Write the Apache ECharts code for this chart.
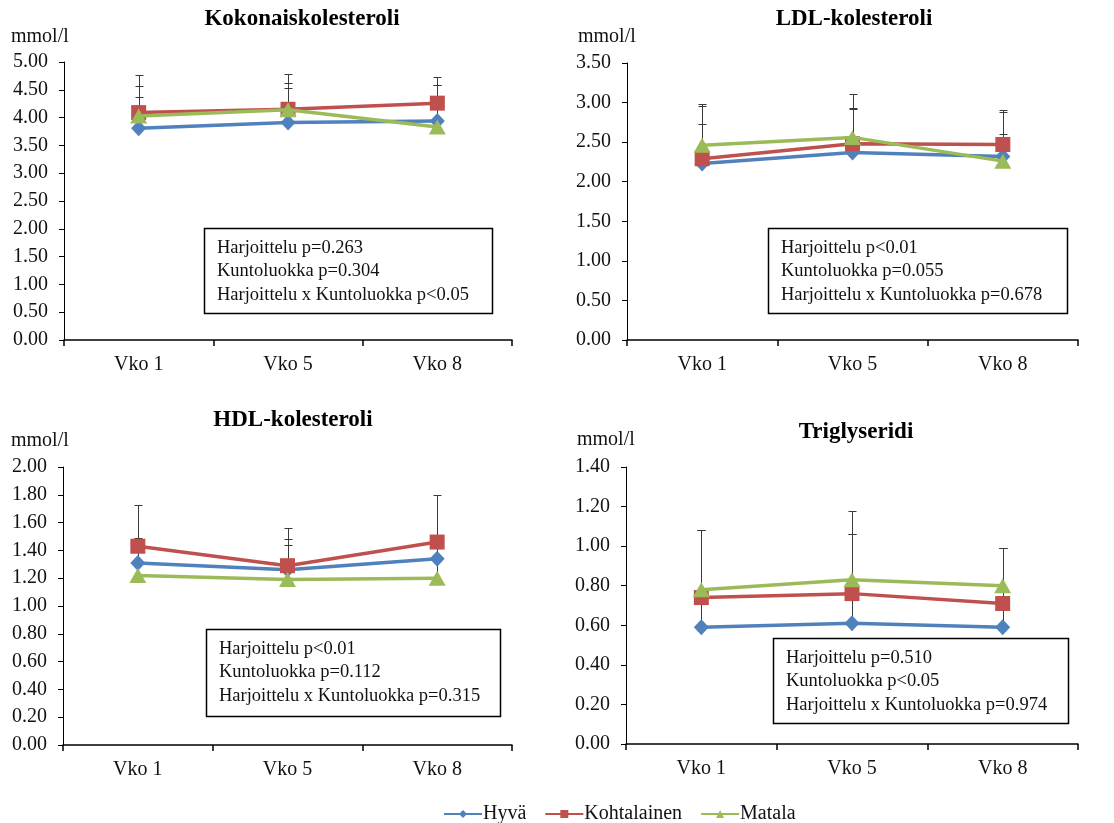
<!DOCTYPE html>
<html>
<head>
<meta charset="utf-8">
<title>Veren rasva-arvot kuntoluokittain</title>
<script src="https://cdn.jsdelivr.net/npm/echarts@6/dist/echarts.min.js"></script>
<style>
  html, body { margin: 0; padding: 0; background: #fff; }
  #chart { width: 1114px; height: 823px; }
</style>
</head>
<body>
<div id="chart"></div>
<script>
// Mittausviikot ja kuntoluokat
const weeks = ['Vko 1', 'Vko 5', 'Vko 8'];
const groups = ['Hyvä', 'Kohtalainen', 'Matala'];

// Kokonaiskolesteroli (mmol/l): keskiarvot ja keskihajonnat
const kokHyva = [3.81, 3.91, 3.94];
const kokKohtalainen = [4.09, 4.15, 4.26];
const kokMatala = [4.03, 4.14, 3.83];
const kokHyvaSD = [0.56, 0.63, 0.65];
const kokKohtalainenSD = [0.68, 0.63, 0.47];
const kokMatalaSD = [0.54, 0.48, 0.76];

// LDL-kolesteroli (mmol/l)
const ldlHyva = [2.23, 2.37, 2.32];
const ldlKohtalainen = [2.29, 2.48, 2.47];
const ldlMatala = [2.46, 2.56, 2.26];
const ldlHyvaSD = [0.50, 0.55, 0.56];
const ldlKohtalainenSD = [0.67, 0.45, 0.43];
const ldlMatalaSD = [0.52, 0.55, 0.34];

// HDL-kolesteroli (mmol/l)
const hdlHyva = [1.31, 1.26, 1.34];
const hdlKohtalainen = [1.43, 1.29, 1.46];
const hdlMatala = [1.22, 1.19, 1.20];
const hdlHyvaSD = [0.18, 0.22, 0.11];
const hdlKohtalainenSD = [0.30, 0.27, 0.34];
const hdlMatalaSD = [0.26, 0.25, 0.24];

// Triglyseridi (mmol/l)
const tgHyva = [0.59, 0.61, 0.59];
const tgKohtalainen = [0.74, 0.76, 0.71];
const tgMatala = [0.78, 0.83, 0.80];
const tgHyvaSD = [0.49, 0.45, 0.40];
const tgKohtalainenSD = [0.34, 0.30, 0.28];
const tgMatalaSD = [0.30, 0.35, 0.19];

// Y-akselien asteikot
const yMax = [5.0, 3.5, 2.0, 1.4];
const yStep = [0.5, 0.5, 0.2, 0.2];

// Paneelien otsikot ja tilastolliset testitulokset
const titles = ['Kokonaiskolesteroli', 'LDL-kolesteroli', 'HDL-kolesteroli', 'Triglyseridi'];
const statTexts = [
  ['Harjoittelu p=0.263', 'Kuntoluokka p=0.304', 'Harjoittelu x Kuntoluokka p<0.05'],
  ['Harjoittelu p<0.01', 'Kuntoluokka p=0.055', 'Harjoittelu x Kuntoluokka p=0.678'],
  ['Harjoittelu p<0.01', 'Kuntoluokka p=0.112', 'Harjoittelu x Kuntoluokka p=0.315'],
  ['Harjoittelu p=0.510', 'Kuntoluokka p<0.05', 'Harjoittelu x Kuntoluokka p=0.974']
];
const unitLabel = 'mmol/l';

const panelMeans = [
  [kokHyva, kokKohtalainen, kokMatala],
  [ldlHyva, ldlKohtalainen, ldlMatala],
  [hdlHyva, hdlKohtalainen, hdlMatala],
  [tgHyva, tgKohtalainen, tgMatala]
];
const panelSD = [
  [kokHyvaSD, kokKohtalainenSD, kokMatalaSD],
  [ldlHyvaSD, ldlKohtalainenSD, ldlMatalaSD],
  [hdlHyvaSD, hdlKohtalainenSD, hdlMatalaSD],
  [tgHyvaSD, tgKohtalainenSD, tgMatalaSD]
];

// Ulkoasu
const FONT = '"Liberation Serif", "Times New Roman", serif';
const TEXT = '#111';
const groupColors = ['#4F81BD', '#C0504D', '#9BBB59'];
const groupSymbols = ['diamond', 'rect', 'triangle'];
const groupSymbolSizes = [[15, 16], 15, [17, 15]];

const grids = [
  { left: 64, top: 62, width: 448, height: 278 },
  { left: 627, top: 63, width: 451, height: 277 },
  { left: 63, top: 467, width: 449, height: 278 },
  { left: 626, top: 467, width: 452, height: 277 }
];
const titlePos = [[302, 19], [854, 19], [293, 420], [856, 432]];
const unitPos = [[11, 37], [578, 37], [11, 441], [577, 440]];
const boxes = [
  { x: 204, y: 228, w: 288, h: 85 },
  { x: 768, y: 228, w: 299, h: 85 },
  { x: 206, y: 629, w: 294, h: 87 },
  { x: 773, y: 638, w: 295, h: 85 }
];

// Virhepalkit: pystyviiva keskiarvosta ylöspäin (+SD) ja poikkiviiva päässä
function renderErrorBar(params, api) {
  const i = api.value(0);
  const mean = api.value(1);
  const sd = api.value(2);
  const p0 = api.coord([i, mean]);
  const p1 = api.coord([i, mean + sd]);
  const x = Math.round(p0[0]) + 0.5;
  const yTop = Math.round(p1[1]) + 0.5;
  const capHalf = 4;
  const style = { stroke: '#3a3a3a', lineWidth: 1 };
  return {
    type: 'group',
    children: [
      { type: 'line', shape: { x1: x, y1: p0[1], x2: x, y2: yTop }, style: style },
      { type: 'line', shape: { x1: x - capHalf, y1: yTop, x2: x + capHalf, y2: yTop }, style: style }
    ]
  };
}

const xAxes = [], yAxes = [], series = [], graphics = [];

grids.forEach(function (g, p) {
  xAxes.push({
    gridIndex: p,
    type: 'category',
    data: weeks,
    boundaryGap: true,
    axisLine: { lineStyle: { color: '#000', width: 1.5 } },
    axisTick: { show: true, length: 6, inside: false, lineStyle: { color: '#000', width: 1.5 } },
    axisLabel: { fontFamily: FONT, fontSize: 20, color: TEXT, margin: 15 },
    splitLine: { show: false }
  });
  yAxes.push({
    gridIndex: p,
    type: 'value',
    min: 0,
    max: yMax[p],
    interval: yStep[p],
    axisLine: { show: true, lineStyle: { color: '#000', width: 1 } },
    axisTick: { show: true, length: 5, lineStyle: { color: '#000' } },
    axisLabel: {
      fontFamily: FONT, fontSize: 20, color: TEXT, margin: 16,
      formatter: function (v) { return v.toFixed(2); }
    },
    splitLine: { show: false }
  });

  // Virhepalkit piirretään viivojen ja merkkien alle
  groups.forEach(function (name, s) {
    series.push({
      type: 'custom',
      xAxisIndex: p,
      yAxisIndex: p,
      silent: true,
      z: 1,
      renderItem: renderErrorBar,
      encode: { x: 0, y: 1 },
      data: panelMeans[p][s].map(function (m, i) { return [i, m, panelSD[p][s][i]]; })
    });
  });

  groups.forEach(function (name, s) {
    series.push({
      type: 'line',
      name: name,
      xAxisIndex: p,
      yAxisIndex: p,
      data: panelMeans[p][s],
      symbol: groupSymbols[s],
      symbolSize: groupSymbolSizes[s],
      showSymbol: true,
      itemStyle: { color: groupColors[s], opacity: 1 },
      lineStyle: { color: groupColors[s], width: 3.5 },
      z: 3 + s,
      emphasis: { disabled: true }
    });
  });

  graphics.push({
    type: 'text',
    style: {
      text: titles[p], x: titlePos[p][0], y: titlePos[p][1],
      textAlign: 'center', textVerticalAlign: 'middle',
      font: 'bold 23px ' + FONT, fill: '#000'
    }
  });
  graphics.push({
    type: 'text',
    style: {
      text: unitLabel, x: unitPos[p][0], y: unitPos[p][1],
      textAlign: 'left', textVerticalAlign: 'middle',
      font: '20px ' + FONT, fill: TEXT
    }
  });
  const b = boxes[p];
  graphics.push({
    type: 'rect',
    shape: { x: b.x + 0.5, y: b.y + 0.5, width: b.w, height: b.h },
    style: { fill: '#fff', stroke: '#000', lineWidth: 1.5 },
    z: 10
  });
  statTexts[p].forEach(function (line, k) {
    graphics.push({
      type: 'text',
      style: {
        text: line, x: b.x + 13, y: b.y + 20 + k * 23.5,
        textAlign: 'left', textVerticalAlign: 'middle',
        font: '18.5px ' + FONT, fill: TEXT
      },
      z: 11
    });
  });
});

const chart = echarts.init(document.getElementById('chart'), null, { renderer: 'canvas' });
chart.setOption({
  backgroundColor: '#fff',
  animation: false,
  grid: grids,
  xAxis: xAxes,
  yAxis: yAxes,
  legend: {
    data: groups,
    left: 438,
    top: 799,
    itemWidth: 38,
    itemHeight: 10,
    itemGap: 18,
    textStyle: { fontFamily: FONT, fontSize: 20, color: TEXT, padding: [0, 0, 0, -4] }
  },
  series: series,
  graphic: graphics
});
</script>
</body>
</html>
